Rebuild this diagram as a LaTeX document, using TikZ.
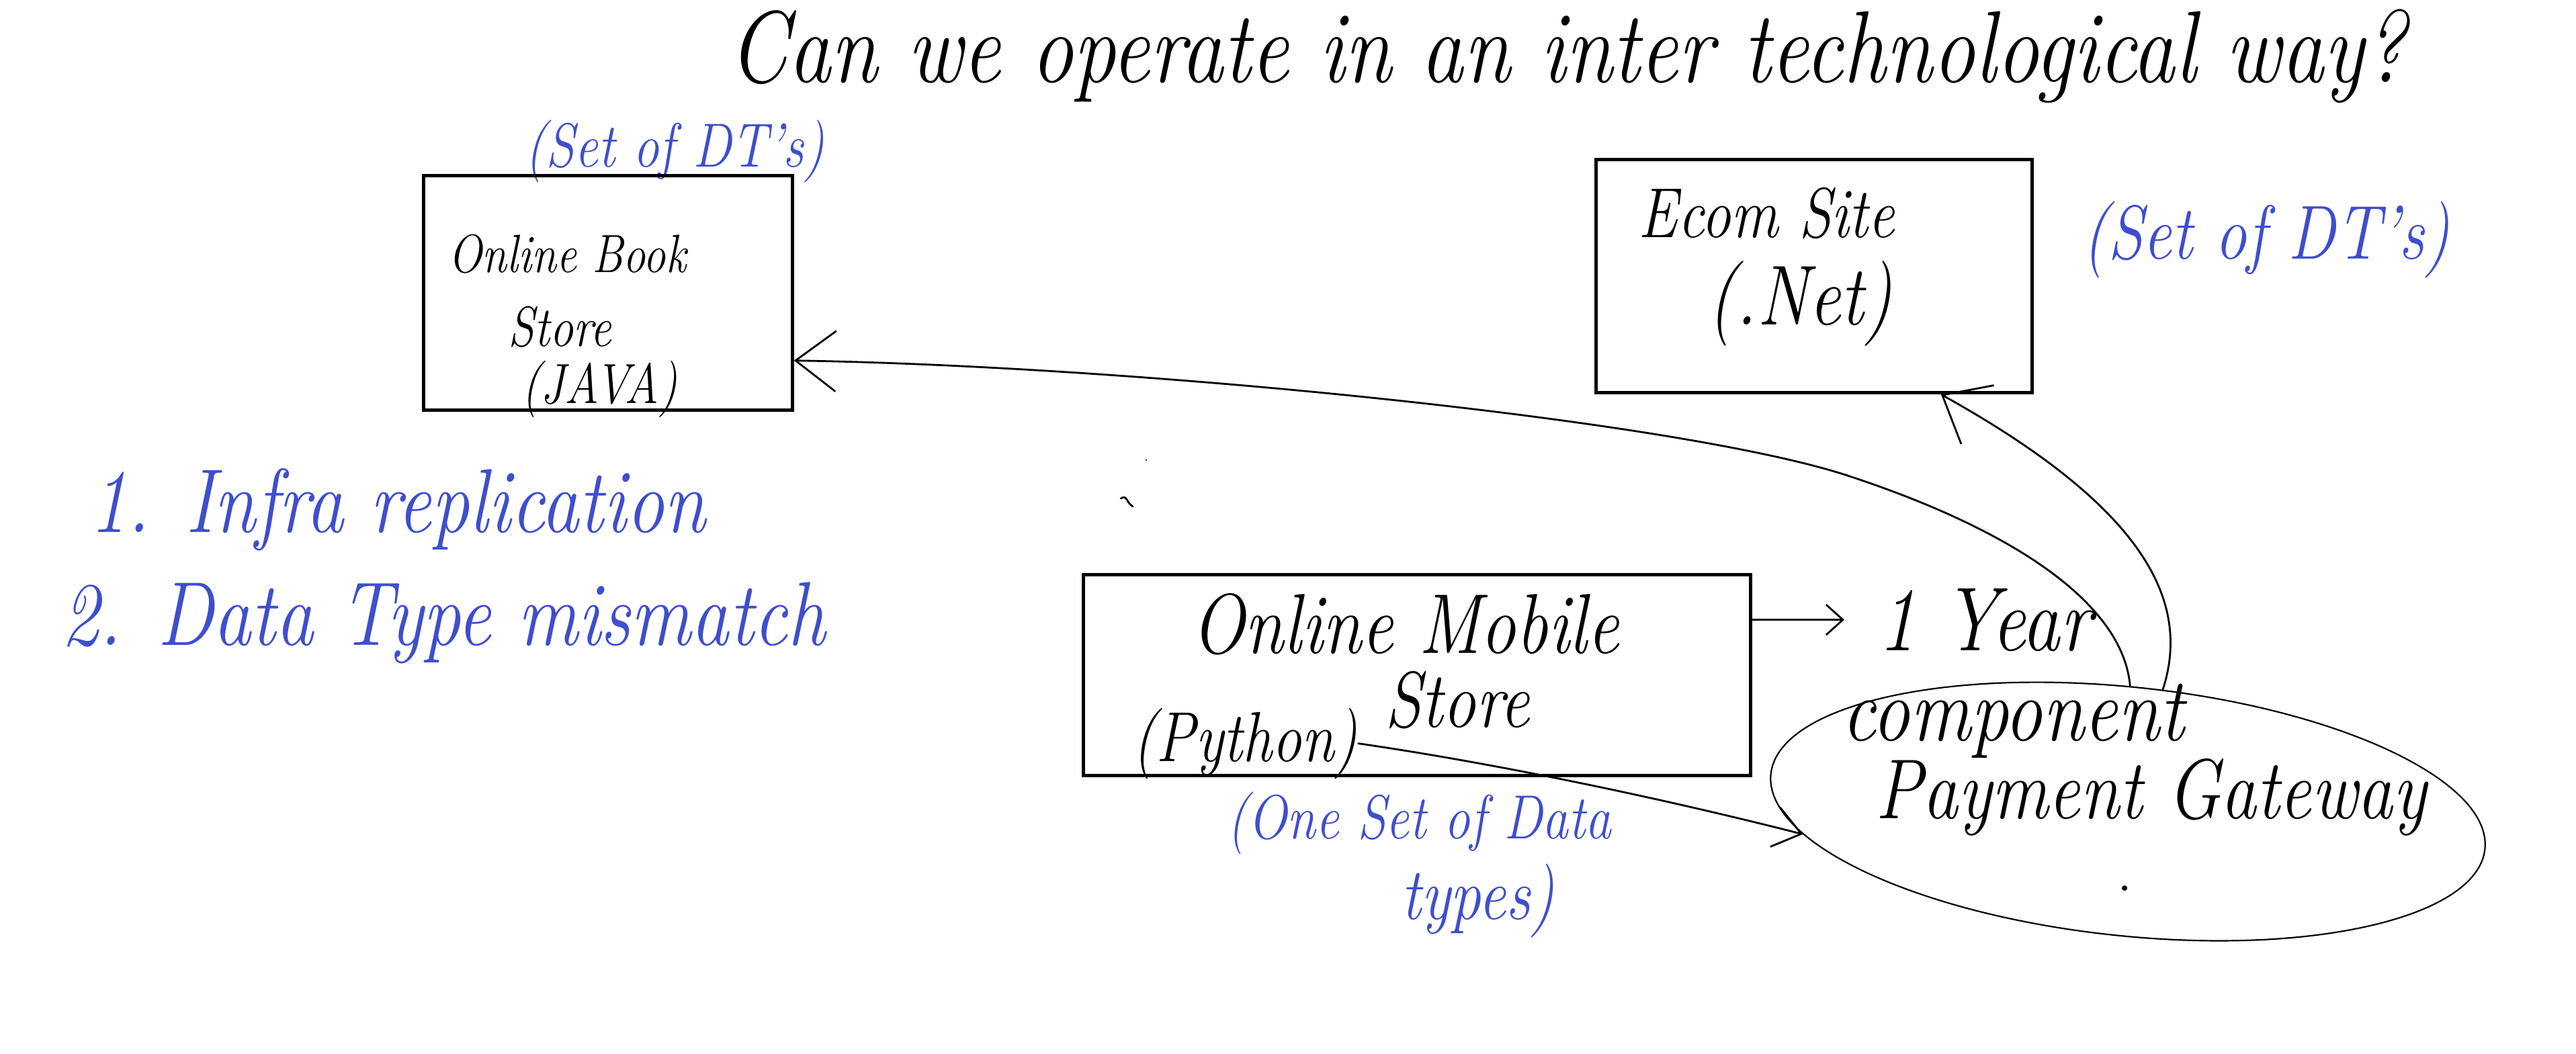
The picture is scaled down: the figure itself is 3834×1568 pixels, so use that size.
\documentclass[tikz,border=0pt]{standalone}
\usepackage{fontspec}
\usetikzlibrary{arrows.meta,shapes.geometric}
\definecolor{pen}{RGB}{62,78,205}
\newcommand\hwf[1]{\fontsize{#1}{#1}\selectfont\itshape}
\newcommand\tallt[1]{\scalebox{1}[1.2]{#1}}
\begin{document}
\begin{tikzpicture}[x=0.01cm,y=-0.01cm,
  hand/.style={inner sep=0pt,anchor=base west,font={\hwf{#1}}},
  bluet/.style={text=pen},
  boxnode/.style={draw,line width=0.05cm,inner sep=0pt},
  conn/.style={line width=0.028cm,line cap=round,line join=round}]
\fill[white] (0,0) rectangle (3834,1568);
\useasboundingbox (0,0) rectangle (3834,1568);

% title
\node[hand=36pt] (title) at (1084,122) {\tallt{Can we operate in an inter technological way?}};

% Java box
\node[hand=22pt,bluet] (dt1) at (781,248) {\tallt{(Set of DT's)}};
\node[boxnode,minimum width=5.48cm,minimum height=3.49cm] (box1) at (905,436) {};
\node[hand=19pt] (b1a) at (667,405) {\tallt{Online Book}};
\node[hand=20pt] (b1b) at (756,515) {\tallt{Store}};
\node[hand=20pt] (b1c) at (776,600) {\tallt{(JAVA)}};

% .Net box
\node[boxnode,minimum width=6.49cm,minimum height=3.47cm] (box2) at (2700,411) {};
\node[hand=25pt] (b2a) at (2438,353) {\tallt{Ecom Site}};
\node[hand=30pt] (b2b) at (2541,483) {\tallt{(.Net)}};
\node[hand=27pt,bluet] (dt2) at (3099,385) {\tallt{(Set of DT's)}};

% list
\node[hand=32pt,bluet] (l1) at (133,792) {\tallt{1. Infra replication}};
\node[hand=32pt,bluet] (l2) at (91,960) {\tallt{2. Data Type mismatch}};

% Python box
\node[boxnode,minimum width=9.93cm,minimum height=2.98cm] (box3) at (2109,1005) {};
\node[hand=30pt] (b3a) at (1773,972) {\tallt{Online Mobile}};
\node[hand=28pt] (b3b) at (2061,1082) {\tallt{Store}};
\node[hand=25pt] (py) at (1685,1133) {\tallt{(Python)}};
\node[hand=22pt,bluet] (od1) at (1826,1248) {\tallt{(One Set of Data}};
\node[hand=26pt,bluet] (od2) at (2085,1368) {\tallt{types)}};

% payment gateway
\node[draw,ellipse,line width=0.022cm,minimum width=10.68cm,minimum height=3.7cm,inner sep=0pt,rotate=-6] (pg) at (3167,1208) {};
\node[hand=32pt] (yr) at (2795,968) {\tallt{1 Year}};
\node[hand=32pt] (cp) at (2741,1102) {\tallt{component}};
\node[hand=30pt] (pgt) at (2791,1218) {\tallt{Payment Gateway}};

% connectors
\draw[conn,-{Straight Barb[length=0.25cm,width=0.45cm]}] (box3.east |- yr.west) -- ([xshift=-0.5cm]yr.west);
\draw[conn,-{Straight Barb[length=0.4cm,width=0.6cm]}] (py.east) .. controls (2250,1140) and (2500,1195) .. (pg.190);
\draw[conn,-{Straight Barb[length=0.6cm,width=0.9cm]}] (pg.95) .. controls (3160,900) and (3000,790) .. (2750,708) .. controls (2500,626) and (1700,545) .. (box1.-20);
\draw[conn,-{Straight Barb[length=0.6cm,width=1cm]}] (pg.80) .. controls (3260,900) and (3200,760) .. (box2.-43);

% stray marks
\draw[conn] (1668,742) .. controls (1678,736) and (1676,748) .. (1686,754);
\fill (3162,1322) circle[radius=0.04cm];
\fill (1706,685) circle[radius=0.012cm];
\end{tikzpicture}
\end{document}
